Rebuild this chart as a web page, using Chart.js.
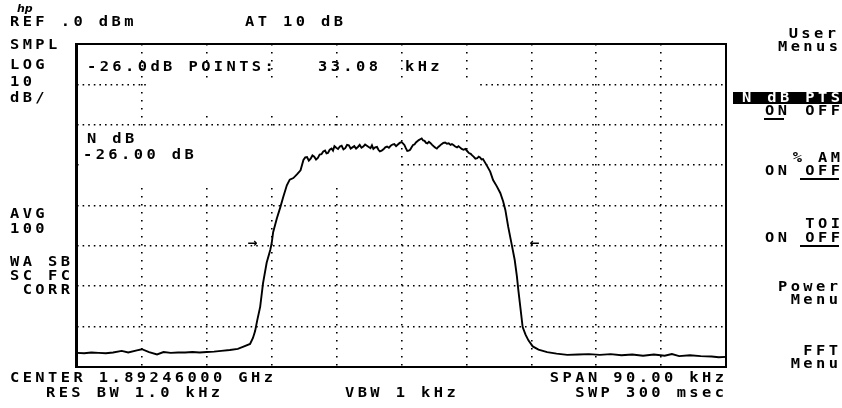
<!DOCTYPE html>
<html>
<head>
    <title>N dB Points</title>
    <script src="https://cdn.jsdelivr.net/npm/chart.js"></script>
    <style>
        body { margin: 0; background: #fff; }
    </style>
</head>
<body>
    <canvas id="specChart" width="842" height="408"></canvas>

    <script>
        // frequency offset from center (kHz) and level (dBm)
        const freqKHz = [
            -45.0, -44.0, -43.0, -42.0, -41.0, -40.0, -38.8, -37.9, -36.7, -36.0,
            -35.0, -33.9, -33.0, -32.0, -31.0, -30.0, -29.0, -28.0, -27.0, -26.0,
            -25.0, -23.8, -22.7, -22.0, -21.0, -20.6, -20.3, -20.0, -19.6, -19.2,
            -18.7, -18.2, -18.0, -17.8, -17.3, -16.8, -16.4, -15.9, -15.5, -15.0,
            -14.5, -14.0,
            -13.6, -13.35, -13.1, -12.85, -12.6, -12.35, -12.1, -11.85, -11.6, -11.35,
            -11.1, -10.85, -10.6, -10.4, -10.2, -9.95, -9.7, -9.5, -9.3, -9.05,
            -8.8, -8.55, -8.3, -8.05, -7.8, -7.55, -7.3, -7.05, -6.8, -6.55,
            -6.3, -6.05, -5.8, -5.55, -5.3, -5.05, -4.8, -4.55, -4.3, -4.1,
            -3.9, -3.65, -3.4, -3.2, -3.0, -2.75, -2.5, -2.25, -2.0, -1.75,
            -1.5, -1.25, -1.0, -0.75, -0.5, -0.25, 0.0, 0.2, 0.4, 0.6,
            0.8, 1.0, 1.2, 1.4, 1.6, 1.8, 2.0, 2.2, 2.4, 2.6,
            2.8, 3.0, 3.2, 3.4, 3.6, 3.8, 4.0, 4.25, 4.5, 4.7,
            4.9, 5.1, 5.3, 5.55, 5.8, 6.05, 6.3, 6.55, 6.8, 7.0,
            7.2, 7.45, 7.7, 7.9, 8.1, 8.35, 8.6, 8.85, 9.1, 9.35,
            9.6, 9.8, 10.0, 10.25, 10.5, 10.7, 10.9, 11.1, 11.3,
            11.8, 12.3, 12.7, 13.2, 13.7, 14.1, 14.4, 14.8, 15.3, 15.7,
            16.0, 16.2, 16.5, 16.8, 17.2, 17.6, 18.2, 19.0, 20.2, 21.5,
            23.0, 24.5, 26.0, 27.5, 29.0, 30.5, 32.0, 33.5, 35.0, 36.5,
            37.5, 38.5, 40.0, 41.5, 43.0, 44.0, 45.0
        ];
        const levelDbm = [
            -76.5, -76.6, -76.4, -76.5, -76.6, -76.4, -76.0, -76.4, -75.9, -75.6,
            -76.3, -76.9, -76.3, -76.5, -76.4, -76.4, -76.3, -76.4, -76.3, -76.2,
            -76.0, -75.8, -75.5, -75.0, -74.3, -72.8, -71.1, -68.4, -65.1, -59.2,
            -54.2, -51.0, -49.3, -46.6, -43.3, -40.4, -37.9, -35.0, -33.6, -33.2,
            -32.3, -31.3,
            -28.7, -28.1, -28.0, -28.9, -28.4, -27.6, -27.9, -28.6, -28.2, -27.4,
            -27.3, -26.6, -26.4, -27.1, -27.0, -26.2, -25.9, -26.4, -25.3, -25.7,
            -26.0, -25.4, -25.2, -26.1, -25.8, -25.0, -25.1, -25.9, -25.6, -25.3,
            -25.9, -25.5, -25.0, -25.7, -25.4, -24.9, -25.2, -25.5, -25.8, -25.1,
            -26.0, -25.6, -25.5, -26.2, -26.6, -26.4, -26.1, -25.6, -25.4, -25.7,
            -25.2, -24.9, -24.8, -25.3, -24.9, -24.5, -24.3, -24.6, -25.0, -25.8,
            -26.5, -26.4, -26.2, -25.6, -25.0, -24.9, -24.4, -24.1, -23.8, -23.6,
            -23.4, -23.9, -24.0, -24.5, -24.6, -24.2, -24.5, -25.0, -25.4, -25.7,
            -25.9, -25.5, -25.2, -24.8, -24.5, -24.4, -24.7, -24.6, -25.0, -24.8,
            -25.0, -25.4, -25.6, -25.3, -25.6, -26.0, -26.2, -26.0, -26.5, -27.0,
            -27.2, -27.6, -27.9, -28.4, -28.3, -27.9, -28.1, -28.6, -28.5,
            -30.0, -31.6, -33.7, -35.2, -36.9, -39.0, -41.1, -45.3, -49.8, -53.5,
            -57.5, -60.9, -65.5, -70.1, -72.0, -73.4, -74.9, -75.7, -76.3, -76.7,
            -77.0, -76.9, -76.8, -77.0, -76.8, -77.1, -76.9, -77.2, -76.9, -77.2,
            -76.8, -77.3, -77.1, -77.3, -77.4, -77.6, -77.5
        ];

        // -26 dB point markers
        const ndbFreq = [-20.0, 17.8];
        const ndbLevel = [-49.4, -49.4];

        // screen annotations
        const headerLabels = ['REF .0 dBm', 'AT 10 dB'];
        const leftLabels = ['SMPL', 'LOG', '10', 'dB/', 'AVG', '100', 'WA SB', 'SC FC', ' CORR'];
        const readoutLabels = ['-26.0dB POINTS:', '33.08', 'kHz'];
        const markerLabels = ['N dB', '-26.00 dB'];
        const footerLabels = ['CENTER 1.89246000 GHz', 'RES BW 1.0 kHz', 'VBW 1 kHz', 'SPAN 90.00 kHz', 'SWP 300 msec'];
        const softKeys = ['User', 'Menus', 'N dB PTS', '% AM', 'TOI', 'Power', 'Menu', 'FFT', 'Menu'];

        const FONT = 'bold 14px "DejaVu Sans Mono"';
        const SX = 1.1;    // HP screen font is wider than DejaVu
        const LS = 3.1;

        function put(ctx, s, x, y, align, color) {
            ctx.save();
            ctx.font = FONT;
            ctx.letterSpacing = LS + 'px';
            ctx.textBaseline = 'middle';
            ctx.fillStyle = color || '#000';
            ctx.translate(x, y);
            ctx.scale(SX, 1);
            if (align === 'right') {
                ctx.textAlign = 'right';
                ctx.fillText(s, LS, 0);
            } else {
                ctx.fillText(s, 0, 0);
            }
            ctx.restore();
        }

        function onOff(ctx, y, onSelected) {
            put(ctx, 'ON', 765, y);
            put(ctx, 'OFF', 840, y, 'right');
            ctx.fillStyle = '#000';
            if (onSelected) ctx.fillRect(764, y + 7, 20, 2);
            else ctx.fillRect(800, y + 7, 39, 2);
        }

        const screenPlugin = {
            id: 'screen',
            beforeDatasetsDraw(chart) {
                // annotation boxes blank out the graticule behind them
                const ctx = chart.ctx;
                ctx.save();
                ctx.fillStyle = '#fff';
                ctx.fillRect(149, 83, 329, 33);
                ctx.fillRect(79, 127, 320, 57);
                ctx.restore();
            },
            afterDraw(chart) {
                const ctx = chart.ctx;
                const a = chart.chartArea;
                const xs = chart.scales.x, ys = chart.scales.y;

                // frame
                ctx.save();
                ctx.strokeStyle = '#000';
                ctx.lineWidth = 2;
                ctx.strokeRect(a.left, a.top, a.right - a.left, a.bottom - a.top);
                ctx.fillStyle = '#000';
                ctx.fillRect(a.left - 2, a.top - 1, 3, a.bottom - a.top + 2);
                ctx.restore();

                // hp logo
                ctx.save();
                ctx.font = 'italic bold 11px "DejaVu Sans"';
                ctx.fillStyle = '#000';
                ctx.fillText('hp', 17, 12);
                ctx.restore();

                put(ctx, headerLabels[0], 10, 22);
                put(ctx, headerLabels[1], 245, 22);

                const leftY = [45, 65, 82, 98, 214, 229, 262, 276, 290];
                leftLabels.forEach((s, i) => put(ctx, s, 10, leftY[i]));

                put(ctx, readoutLabels[0], 87, 67);
                put(ctx, readoutLabels[1], 318, 67);
                put(ctx, readoutLabels[2], 405, 67);

                put(ctx, markerLabels[0], 87, 139);
                put(ctx, markerLabels[1], 83, 155);

                put(ctx, footerLabels[0], 10, 378);
                put(ctx, footerLabels[1], 46, 393);
                put(ctx, footerLabels[2], 345, 393);
                put(ctx, footerLabels[3], 724, 378, 'right');
                put(ctx, footerLabels[4], 724, 393, 'right');

                // soft keys
                put(ctx, softKeys[0], 836, 34, 'right');
                put(ctx, softKeys[1], 838, 47, 'right');
                ctx.fillStyle = '#000';
                ctx.fillRect(733, 92, 109, 12);
                put(ctx, softKeys[2], 840, 98, 'right', '#fff');
                onOff(ctx, 111, true);
                put(ctx, softKeys[3], 840, 158, 'right');
                onOff(ctx, 171, false);
                put(ctx, softKeys[4], 840, 224, 'right');
                onOff(ctx, 238, false);
                put(ctx, softKeys[5], 838, 287, 'right');
                put(ctx, softKeys[6], 838, 300, 'right');
                put(ctx, softKeys[7], 838, 351, 'right');
                put(ctx, softKeys[8], 838, 364, 'right');

                // -26 dB point arrows
                ctx.save();
                ctx.font = 'bold 12px "DejaVu Sans"';
                ctx.fillStyle = '#000';
                ctx.textBaseline = 'middle';
                ctx.textAlign = 'right';
                ctx.fillText('\u2192', xs.getPixelForValue(ndbFreq[0]), ys.getPixelForValue(ndbLevel[0]));
                ctx.textAlign = 'left';
                ctx.fillText('\u2190', xs.getPixelForValue(ndbFreq[1]), ys.getPixelForValue(ndbLevel[1]));
                ctx.restore();
            }
        };

        const ctx = document.getElementById('specChart').getContext('2d');

        new Chart(ctx, {
            type: 'line',
            data: {
                datasets: [{
                    label: 'Trace A',
                    data: freqKHz.map((f, i) => ({ x: f, y: levelDbm[i] })),
                    borderColor: '#000',
                    borderWidth: 1.9,
                    pointRadius: 0,
                    tension: 0
                }]
            },
            options: {
                responsive: false,
                animation: false,
                layout: { padding: { left: 77, right: 116, top: 44, bottom: 41 } },
                plugins: {
                    legend: { display: false },
                    tooltip: { enabled: false }
                },
                scales: {
                    x: {
                        type: 'linear',
                        min: -45,
                        max: 45,
                        ticks: { display: false, stepSize: 9 },
                        grid: { color: '#000', lineWidth: 1.6, drawTicks: false },
                        border: { display: false, dash: [1.6, 6.4] }
                    },
                    y: {
                        min: -80,
                        max: 0,
                        ticks: { display: false, stepSize: 10 },
                        grid: { color: '#000', lineWidth: 1.6, drawTicks: false },
                        border: { display: false, dash: [1.6, 4] }
                    }
                }
            },
            plugins: [screenPlugin]
        });
    </script>
</body>
</html>
